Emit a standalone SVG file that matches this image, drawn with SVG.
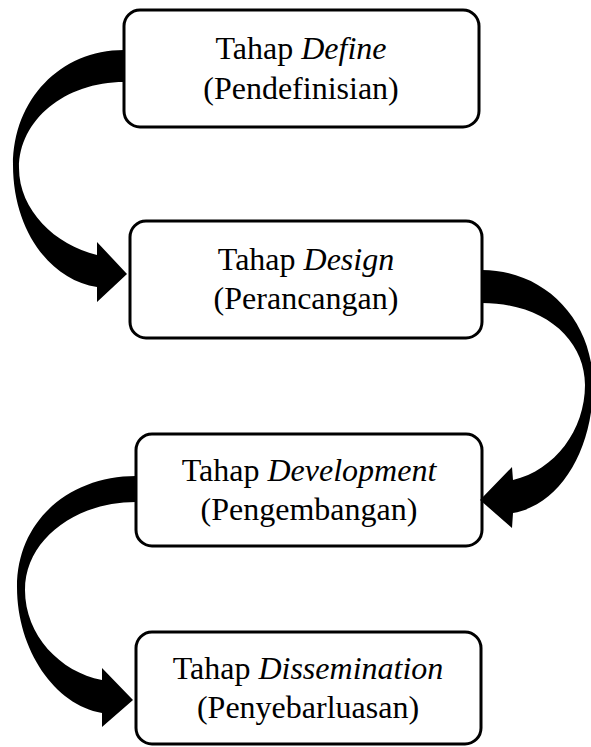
<svg xmlns="http://www.w3.org/2000/svg" width="591" height="747" viewBox="0 0 591 747">
<style>
.box{fill:#fff;stroke:#000;stroke-width:3}
.t{font-family:"Liberation Serif","Times New Roman",serif;font-size:32px;fill:#000;text-anchor:middle}
.i{font-style:italic}
.arr{fill:#000;stroke:none}
</style>
<rect width="591" height="747" fill="#fff"/>
<g id="define">
<rect class="box" x="124" y="10" width="355" height="117" rx="16"/>
<text class="t" x="301" y="59">Tahap <tspan class="i">Define</tspan></text>
<text class="t" x="301" y="99">(Pendefinisian)</text>
</g>
<g id="design">
<rect class="box" x="130" y="221" width="352" height="117" rx="16"/>
<text class="t" x="306" y="270">Tahap <tspan class="i">Design</tspan></text>
<text class="t" x="306" y="309">(Perancangan)</text>
</g>
<g id="development">
<rect class="box" x="136" y="434" width="346" height="112" rx="16"/>
<text class="t" x="309" y="481">Tahap <tspan class="i">Development</tspan></text>
<text class="t" x="309" y="520">(Pengembangan)</text>
</g>
<g id="dissemination">
<rect class="box" x="136" y="632" width="345" height="112" rx="16"/>
<text class="t" x="308" y="679">Tahap <tspan class="i">Dissemination</tspan></text>
<text class="t" x="308" y="718">(Penyebarluasan)</text>
</g>
<g id="connectors">
<path class="arr" d="M124,50 C60,50 13,100 13,165 C13,230 50,280 97,287 L97,302 L127,274 L97,242 L97,255 C55,245 19,210 19,168 C19,120 65,82 124,82 Z"/>
<path class="arr" d="M482,270 C545,270 593,320 593,385 C593,450 560,505 513,513 L512,528 L480,500 L512,467 L513,480 C555,470 585,430 585,385 C585,340 545,303 482,303 Z"/>
<path class="arr" d="M136,476 C70,476 17,520 17,587 C17,650 55,705 102,713 L102,727 L133,700 L102,668 L102,680 C60,672 25,635 25,590 C25,540 75,502 136,502 Z"/>
</g>
</svg>
